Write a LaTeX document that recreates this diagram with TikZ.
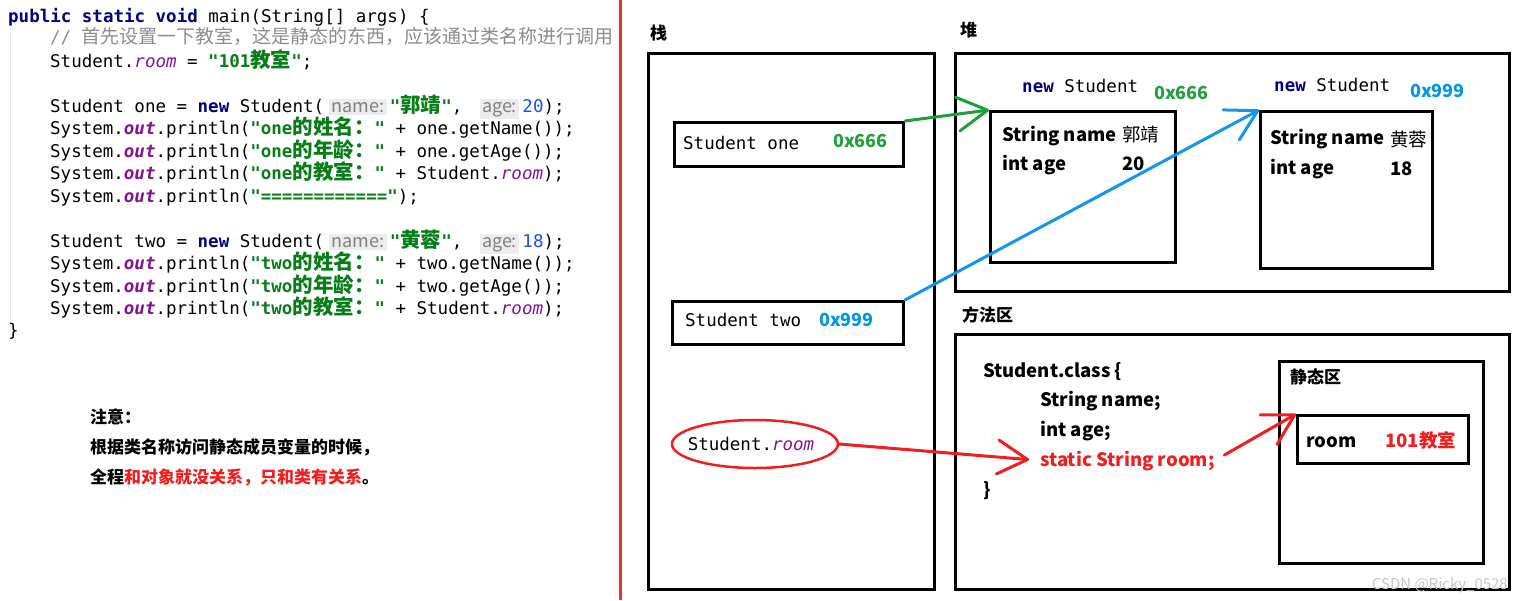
\documentclass[tikz,border=0pt]{standalone}
\usepackage{fontspec}
\setmonofont{DejaVu Sans Mono}
\newfontfamily\cjk{Noto Sans CJK SC}
\usetikzlibrary{arrows.meta,shapes.geometric}

\definecolor{kwblue}{RGB}{0,0,128}
\definecolor{strgreen}{RGB}{6,125,23}
\definecolor{fldpurple}{RGB}{135,16,148}
\definecolor{numblue}{RGB}{23,80,235}
\definecolor{cmtgray}{RGB}{140,140,140}
\definecolor{hintfg}{RGB}{128,128,128}
\definecolor{hintbg}{RGB}{236,236,236}
\definecolor{hexgreen}{RGB}{34,160,60}
\definecolor{hexblue}{RGB}{0,150,230}
\definecolor{arrgreen}{RGB}{30,158,60}
\definecolor{arrblue}{RGB}{20,150,230}
\definecolor{arrred}{RGB}{240,30,30}
\definecolor{sepred}{RGB}{230,50,40}

\newcommand\codefont{\fontsize{17.5}{20}\ttfamily}
\newcommand\zh[1]{{\fontsize{20.5}{20}\cjk #1}}
\newcommand\zhc[1]{{\fontsize{19}{20}\cjk #1}}
\newcommand\jkw[1]{\textcolor{kwblue}{\bfseries #1}}
\newcommand\jstr[1]{\textcolor{strgreen}{\bfseries #1}}
\newcommand\jfld[1]{\textcolor{fldpurple}{\itshape #1}}
\newcommand\jout{\textcolor{fldpurple}{\bfseries\itshape out}}
\newcommand\jnum[1]{\textcolor{numblue}{#1}}
\newcommand\jhint[1]{\hspace{5pt}{\setlength{\fboxsep}{2.5pt}\colorbox{hintbg}{\fontsize{18}{20}\cjk\color{hintfg}#1}}\hspace{3pt}}

\begin{document}
\begin{tikzpicture}[x=1pt, y=-1pt,
    code/.style={font=\codefont, anchor=base west, inner sep=0},
    note/.style={font=\fontsize{17}{20}\cjk\bfseries, anchor=base west, inner sep=0},
    title/.style={font=\fontsize{17}{20}\cjk\bfseries, anchor=base west, inner sep=0},
    field/.style={font=\fontsize{18.5}{20}\cjk\bfseries, anchor=base west, inner sep=0},
    value/.style={font=\fontsize{18.5}{20}\cjk, anchor=base west, inner sep=0},
    hex/.style={font=\fontsize{18}{20}\cjk\bfseries, anchor=base west, inner sep=0},
    box/.style={draw, line width=3, anchor=north west, inner sep=0},
    ptr/.style={line width=3, line cap=round, -{Straight Barb[length=30pt, width=34pt, round]}}]
    \useasboundingbox (0,0) rectangle (1522,600);

    % code on the left
    \draw[gray!18, line width=1] (10,27) -- (10,333);
    \node[code] (c1) at (8,22) {\jkw{public static void} main(String[] args) \{};
    \node[code] (c2) at (50,43) {\textcolor{cmtgray}{// \zhc{首先设置一下教室，这是静态的东西，应该通过类名称进行调用}}};
    \node[code] (c3) at (50,67) {Student.\jfld{room} = \jstr{"101\zh{教室}"};};
    \node[code] (c4) at (50,112) {Student one = \jkw{new} Student(\jhint{name:}\jstr{"\zh{郭靖}"},\hspace{12pt}\jhint{age:}\jnum{20});};
    \node[code] (c5) at (50,134) {System.\jout.println(\jstr{"one\zh{的姓名：}"} + one.getName());};
    \node[code] (c6) at (50,157) {System.\jout.println(\jstr{"one\zh{的年龄：}"} + one.getAge());};
    \node[code] (c7) at (50,179) {System.\jout.println(\jstr{"one\zh{的教室：}"} + Student.\jfld{room});};
    \node[code] (c8) at (50,202) {System.\jout.println(\jstr{"============"});};
    \node[code] (c10) at (50,247) {Student two = \jkw{new} Student(\jhint{name:}\jstr{"\zh{黄蓉}"},\hspace{12pt}\jhint{age:}\jnum{18});};
    \node[code] (c11) at (50,269) {System.\jout.println(\jstr{"two\zh{的姓名：}"} + two.getName());};
    \node[code] (c12) at (50,292) {System.\jout.println(\jstr{"two\zh{的年龄：}"} + two.getAge());};
    \node[code] (c13) at (50,314) {System.\jout.println(\jstr{"two\zh{的教室：}"} + Student.\jfld{room});};
    \node[code] (c14) at (8,336) {\}};

    \node[note] (n1) at (90,423) {注意：};
    \node[note] (n2) at (90,453) {根据类名称访问静态成员变量的时候，};
    \node[note] (n3) at (90,483) {全程\textcolor{arrred}{和对象就没关系，只和类有关系}。};

    \draw[line width=3, sepred] (620,0) -- (620,600);

    % stack
    \node[title] (stacktitle) at (650,39) {栈};
    \node[box, minimum width=286, minimum height=536] (stack) at (647,52) {};
    \node[box, minimum width=229, minimum height=44] (one) at (673,121) {};
    \node[code] (onevar) at (683,149) {Student one};
    \node[hex, text=hexgreen] (oneaddr) at (833,147) {0x666};
    \node[box, minimum width=231, minimum height=43] (two) at (671,300) {};
    \node[code] (twovar) at (685,326) {Student two};
    \node[hex, text=hexblue] (twoaddr) at (819,326) {0x999};
    \node[ellipse, draw=arrred, line width=2.5, minimum width=166, minimum height=48, inner sep=0] (roomref) at (755,444) {};
    \node[font=\codefont, inner sep=0] (roomtxt) at (751,444) {Student.\jfld{room}};

    % heap
    \node[title] (heaptitle) at (960,36) {堆};
    \node[box, minimum width=554, minimum height=238] (heap) at (954,52) {};
    \node[code] (new1) at (1022,92) {\jkw{new} Student};
    \node[hex, text=hexgreen] (addr1) at (1154,99) {0x666};
    \node[box, minimum width=185, minimum height=151] (obj1) at (989,110) {};
    \node[field] (name1) at (1002,141) {String name};
    \node[value] (nameval1) at (1122,141) {郭靖};
    \node[field] (age1) at (1002,170) {int age};
    \node[field] (ageval1) at (1122,170) {20};
    \node[code] (new2) at (1274,91) {\jkw{new} Student};
    \node[hex, text=hexblue] (addr2) at (1410,97) {0x999};
    \node[box, minimum width=172, minimum height=157] (obj2) at (1259,110) {};
    \node[field] (name2) at (1270,144) {String name};
    \node[value] (nameval2) at (1390,146) {黄蓉};
    \node[field] (age2) at (1270,174) {int age};
    \node[field] (ageval2) at (1390,175) {18};

    % method area
    \node[title] (methodtitle) at (962,321) {方法区};
    \node[box, minimum width=554, minimum height=255] (method) at (954,333) {};
    \node[field] (cls) at (983,377) {Student.class \{};
    \node[field] (mname) at (1040,406) {String name;};
    \node[field] (mage) at (1040,436) {int age;};
    \node[field, text=arrred] (mroom) at (1040,466) {static String room;};
    \node[field] (clsend) at (983,496) {\}};
    \node[box, minimum width=204, minimum height=202] (static) at (1278,360) {};
    \node[title] (statictitle) at (1290,383) {静态区};
    \node[box, minimum width=171, minimum height=48] (roomval) at (1296,414) {};
    \node[field] (roomname) at (1306,447) {room};
    \node[field, text=arrred] (roomtext) at (1385,447) {101教室};
    \node[font=\fontsize{15}{16}\cjk, text=gray!45, anchor=base east, inner sep=0] (mark) at (1508,589) {CSDN @Ricky\_0528};

    % references
    \draw[ptr, arrgreen] (one.north east) -- (obj1.north west);
    \draw[ptr, arrblue] (two.north east) -- (obj2.north west);
    \draw[ptr, arrred, shorten >=11pt] (roomref.east) -- (mroom.west);
    \draw[ptr, arrred, shorten <=11pt] (mroom.east) -- (roomval.north west);
\end{tikzpicture}
\end{document}
